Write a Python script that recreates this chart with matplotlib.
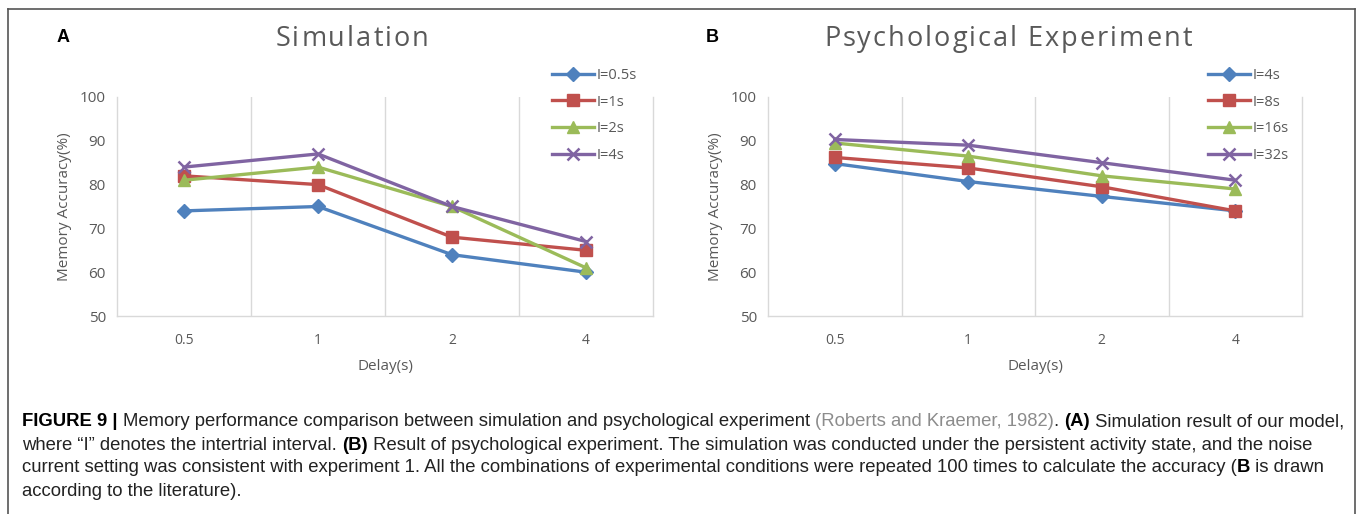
import matplotlib
matplotlib.use("Agg")
import matplotlib.pyplot as plt
from matplotlib.lines import Line2D

# --- Données ---
delays = ["0.5", "1", "2", "4"]

sim_labels = ["I=0.5s", "I=1s", "I=2s", "I=4s"]
sim_i05 = [74, 75, 64, 60]
sim_i1 = [82, 80, 68, 65]
sim_i2 = [81, 84, 75, 61]
sim_i4 = [84, 87, 75, 67]

psy_labels = ["I=4s", "I=8s", "I=16s", "I=32s"]
psy_i4 = [84.8, 80.7, 77.3, 74.0]
psy_i8 = [86.2, 83.8, 79.5, 74.0]
psy_i16 = [89.5, 86.5, 82.0, 79.0]
psy_i32 = [90.3, 89.0, 85.0, 81.0]

COLORS = ["#4F81BD", "#C0504D", "#9BBB59", "#8064A2"]
MARKERS = ["D", "s", "^", "x"]
MSIZES = [7, 8, 8, 8]
GRAY_TXT = "#595959"
GRID = "#D9D9D9"
CHART_FONT = ["Open Sans", "DejaVu Sans"]

W, H = 1360, 514
fig = plt.figure(figsize=(W / 100, H / 100), dpi=100)
renderer = fig.canvas.get_renderer()


def px_box(x0, y0, x1, y1):
    return [x0 / W, 1 - y1 / H, (x1 - x0) / W, (y1 - y0) / H]


def tracked_text(s, cx, y, size, track):
    """Titre avec espacement des lettres (centré sur cx)."""
    widths = []
    for ch in s:
        t = fig.text(0, 0, ch if ch != " " else "a", family=CHART_FONT, fontsize=size)
        w = t.get_window_extent(renderer=renderer).width
        t.remove()
        widths.append(w * 0.45 if ch == " " else w)
    total = sum(widths) + track * (len(s) - 1)
    x = cx - total / 2
    for ch, w in zip(s, widths):
        if ch != " ":
            fig.text(x / W, 1 - y / H, ch, ha="left", va="center",
                     family=CHART_FONT, fontsize=size, color=GRAY_TXT)
        x += w + track


def draw_panel(rect, series, labels, title, title_x, letter, letter_x, leg_x):
    ax = fig.add_axes(px_box(*rect))
    xs = list(range(len(delays)))
    handles = []
    for vals, lab, c, m, ms in zip(series, labels, COLORS, MARKERS, MSIZES):
        h, = ax.plot(xs, vals, color=c, lw=2.4, marker=m, ms=ms,
                     mew=1.8 if m == "x" else 1, mfc=c, mec=c, label=lab)
        handles.append(h)
    ax.set_xlim(-0.5, len(delays) - 0.5)
    ax.set_ylim(50, 100)
    ax.set_yticks([50, 60, 70, 80, 90, 100])
    ax.set_xticks(xs)
    ax.set_xticklabels(delays, family=CHART_FONT, fontsize=10, color=GRAY_TXT)
    for t in ax.get_yticklabels():
        t.set_family(CHART_FONT)
        t.set_fontsize(11)
        t.set_color(GRAY_TXT)
    ax.tick_params(length=0, pad=8)
    ax.tick_params(axis="x", pad=12)
    for b in [0.5, 1.5, 2.5]:
        ax.axvline(b, color=GRID, lw=1, zorder=0)
    for s in ["left", "right", "bottom"]:
        ax.spines[s].set_color(GRID)
        ax.spines[s].set_linewidth(1)
    ax.spines["top"].set_visible(False)
    ax.set_xlabel("Delay(s)", family=CHART_FONT, fontsize=11, color=GRAY_TXT, labelpad=8)
    ax.set_ylabel("Memory Accuracy(%)", family=CHART_FONT, fontsize=11, color=GRAY_TXT, labelpad=6)

    tracked_text(title, title_x, 39, 19.5, 2.0)
    fig.text(letter_x / W, 1 - 37 / H, letter, ha="left", va="center",
             family=["Liberation Sans", "DejaVu Sans"], fontsize=13, weight="bold")
    fig.legend(handles=handles, loc="upper left",
               bbox_to_anchor=(leg_x / W, 1 - 62 / H), frameon=False,
               handlelength=2.9, handletextpad=0.2, labelspacing=0.80,
               prop={"family": CHART_FONT, "size": 10.5}, labelcolor=GRAY_TXT,
               borderaxespad=0)
    return ax


draw_panel((117, 97, 653, 316), [sim_i05, sim_i1, sim_i2, sim_i4], sim_labels,
           "Simulation", 352, "A", 57, 546)
draw_panel((768, 97, 1302, 316), [psy_i4, psy_i8, psy_i16, psy_i32], psy_labels,
           "Psychological Experiment", 1008, "B", 706, 1202)

# --- Cadre ---
border = dict(color="#555555", lw=1.2, transform=fig.transFigure)
fig.add_artist(Line2D([8 / W, 8 / W], [0, 1 - 9 / H], **border))
fig.add_artist(Line2D([1355 / W, 1355 / W], [0, 1 - 9 / H], **border))
fig.add_artist(Line2D([8 / W, 1355 / W], [1 - 9 / H, 1 - 9 / H], **border))

# --- Légende de figure (texte en morceaux) ---
CAP = ["Liberation Sans", "DejaVu Sans"]
cap_lines = [
    [("FIGURE 9 | ", "bold", "black"),
     ("Memory performance comparison between simulation and psychological experiment ", "normal", "#222222"),
     ("(Roberts and Kraemer, 1982)", "normal", "#8C8C8C"),
     (". ", "normal", "#222222"),
     ("(A)", "bold", "black"),
     (" Simulation result of our model,", "normal", "#222222")],
    [("where \u201cI\u201d denotes the intertrial interval. ", "normal", "#222222"),
     ("(B)", "bold", "black"),
     (" Result of psychological experiment. The simulation was conducted under the persistent activity state, and the noise", "normal", "#222222")],
    [("current setting was consistent with experiment 1. All the combinations of experimental conditions were repeated 100 times to calculate the accuracy (", "normal", "#222222"),
     ("B", "bold", "black"),
     (" is drawn", "normal", "#222222")],
    [("according to the literature).", "normal", "#222222")],
]
line_y = [422, 445, 468, 491]

for pieces, y in zip(cap_lines, line_y):
    x = 22
    for txt, wt, col in pieces:
        t = fig.text(x / W, 1 - y / H, txt, ha="left", va="center",
                     family=CAP, fontsize=13.3, weight=wt, color=col)
        bb = t.get_window_extent(renderer=renderer)
        x += bb.width

fig.savefig("out.png", dpi=100)
